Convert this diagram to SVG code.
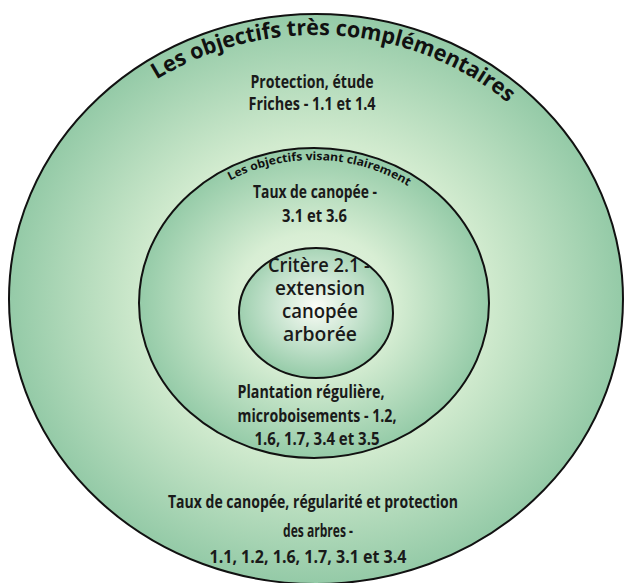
<svg xmlns="http://www.w3.org/2000/svg" width="626" height="583" viewBox="0 0 626 583">
<defs>
<radialGradient id="gOuter" cx="0.5" cy="0.5" r="0.5">
<stop offset="0" stop-color="#e6f4e0"/>
<stop offset="0.55" stop-color="#d2ebcf"/>
<stop offset="1" stop-color="#94caa7"/>
</radialGradient>
<radialGradient id="gMid" cx="0.5" cy="0.5" r="0.5">
<stop offset="0" stop-color="#eaf6e5"/>
<stop offset="0.45" stop-color="#d8eed4"/>
<stop offset="1" stop-color="#95cba8"/>
</radialGradient>
<radialGradient id="gInner" cx="0.5" cy="0.45" r="0.55">
<stop offset="0" stop-color="#fbfdf7"/>
<stop offset="1" stop-color="#95cba8"/>
</radialGradient>
<path id="arcOuter" d="M 29 300 A 287 265 0 0 1 603 300"/>
<path id="arcMid" d="M 151 303 A 163 143 0 0 1 477 303"/>
</defs>
<style>
.ring{stroke:#111;stroke-width:2}
.t{font-family:"Open Sans","Liberation Sans",sans-serif;font-weight:700;font-size:18px;fill:#1a1a1a;text-anchor:middle}
.c{font-family:"Open Sans","Liberation Sans",sans-serif;font-weight:600;font-size:19px;fill:#1a1a1a;text-anchor:middle}
.arcBig{font-family:"Open Sans","Liberation Sans",sans-serif;font-weight:700;font-size:22px;fill:#111}
.arcSmall{font-family:"Open Sans","Liberation Sans",sans-serif;font-weight:700;font-size:11.5px;fill:#111}
</style>
<g id="outer">
<ellipse class="ring" cx="316" cy="299" rx="307" ry="285" fill="url(#gOuter)"/>
<text class="arcBig"><textPath href="#arcOuter" startOffset="52.3%" text-anchor="middle" textLength="375" lengthAdjust="spacingAndGlyphs">Les objectifs très complémentaires</textPath></text>
<text class="t" x="312" y="88" textLength="123" lengthAdjust="spacingAndGlyphs">Protection, étude</text>
<text class="t" x="312" y="110" textLength="127" lengthAdjust="spacingAndGlyphs">Friches - 1.1 et 1.4</text>
<text class="t" x="313" y="508" textLength="290" lengthAdjust="spacingAndGlyphs">Taux de canopée, régularité et protection</text>
<text class="t" x="318" y="537" textLength="70" lengthAdjust="spacingAndGlyphs">des arbres -</text>
<text class="t" x="308" y="563" textLength="197" lengthAdjust="spacingAndGlyphs">1.1, 1.2, 1.6, 1.7, 3.1 et 3.4</text>
</g>
<g id="middle">
<ellipse class="ring" cx="314" cy="303" rx="175" ry="155" fill="url(#gMid)"/>
<text class="arcSmall"><textPath href="#arcMid" startOffset="51.2%" text-anchor="middle" textLength="186" lengthAdjust="spacingAndGlyphs">Les objectifs visant clairement</textPath></text>
<text class="t" x="315" y="198" textLength="124" lengthAdjust="spacingAndGlyphs">Taux de canopée -</text>
<text class="t" x="314.5" y="222" textLength="65" lengthAdjust="spacingAndGlyphs">3.1 et 3.6</text>
<text class="t" x="311" y="398" textLength="147" lengthAdjust="spacingAndGlyphs">Plantation régulière,</text>
<text class="t" x="317" y="422" textLength="159" lengthAdjust="spacingAndGlyphs">microboisements - 1.2,</text>
<text class="t" x="317" y="445" textLength="125" lengthAdjust="spacingAndGlyphs">1.6, 1.7, 3.4 et 3.5</text>
</g>
<g id="inner">
<ellipse class="ring" cx="316" cy="313" rx="77" ry="65" fill="url(#gInner)"/>
<text class="c" x="319" y="272" textLength="102" lengthAdjust="spacingAndGlyphs">Critère 2.1 -</text>
<text class="c" x="320" y="295" textLength="90" lengthAdjust="spacingAndGlyphs">extension</text>
<text class="c" x="320" y="318" textLength="76" lengthAdjust="spacingAndGlyphs">canopée</text>
<text class="c" x="320" y="341" textLength="74" lengthAdjust="spacingAndGlyphs">arborée</text>
</g>
<g id="connectors"/>
</svg>
